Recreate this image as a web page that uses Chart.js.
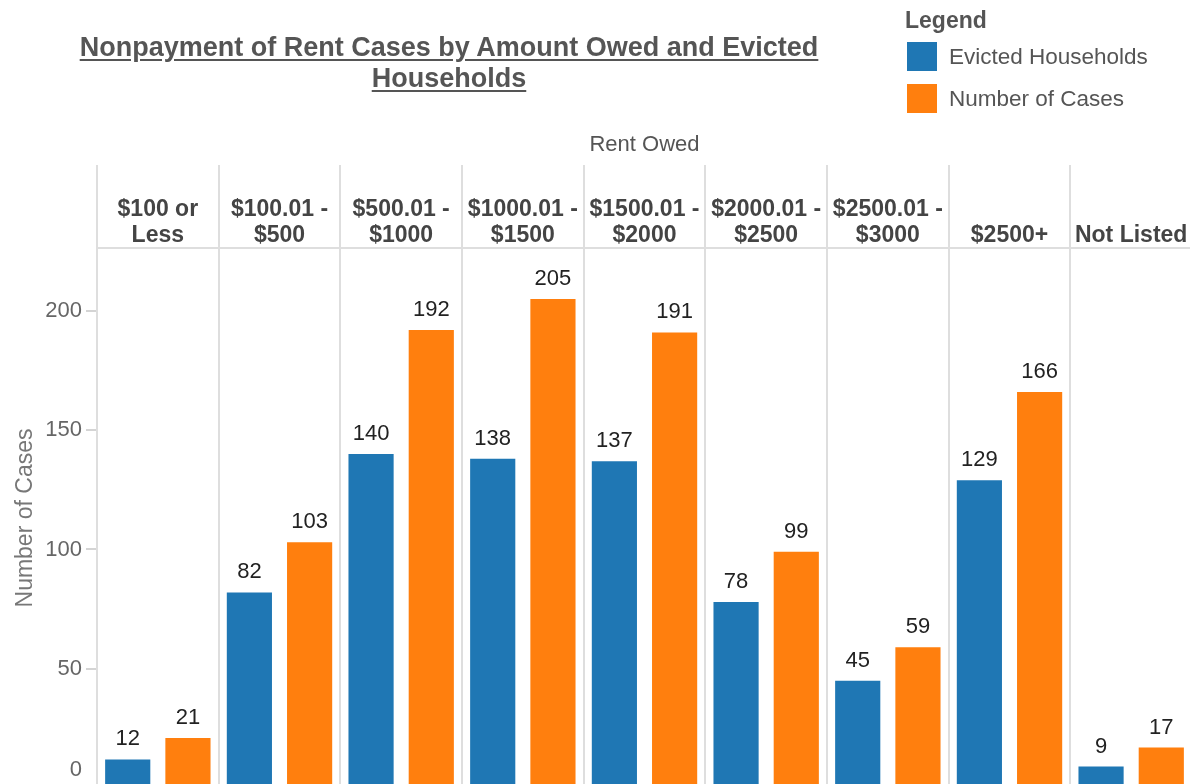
<!DOCTYPE html>
<html>
<head>
<meta charset="utf-8">
<script src="https://cdn.jsdelivr.net/npm/chart.js@4.4.1/dist/chart.umd.min.js"></script>
<style>
  html, body { margin: 0; padding: 0; background: #fff; overflow: hidden; }
  #frame { position: relative; width: 1190px; height: 784px; overflow: hidden;
           font-family: "Liberation Sans", Arial, Helvetica, sans-serif; }
  #wrap { position: absolute; left: 0; top: 0; width: 1192px; height: 800px; }
  #title { position: absolute; left: 0; top: 32px; width: 898px; text-align: center;
           font-weight: bold; font-size: 27px; line-height: 31px; color: #555;
           text-decoration: underline; text-underline-offset: 3px; z-index: 2; }
  #legend { position: absolute; left: 905px; top: 4px; color: #555; z-index: 2; }
  #legend .head { font-weight: bold; font-size: 23px; line-height: 32px; margin-bottom: 6px; }
  #legend .item { display: flex; align-items: center; height: 29px; margin-bottom: 13px; }
  #legend .sw { width: 30px; height: 29px; margin-left: 2px; margin-right: 12px; }
  #legend .lbl { font-size: 22.5px; }
</style>
</head>
<body>
<div id="frame">
  <div id="title">Nonpayment of Rent Cases by Amount Owed and Evicted<br>Households</div>
  <div id="legend"><div class="head">Legend</div></div>
  <div id="wrap"><canvas id="c"></canvas></div>
</div>
<script>
// ---- data ----
const categories = [
  ['$100 or', 'Less'],
  ['$100.01 -', '$500'],
  ['$500.01 -', '$1000'],
  ['$1000.01 -', '$1500'],
  ['$1500.01 -', '$2000'],
  ['$2000.01 -', '$2500'],
  ['$2500.01 -', '$3000'],
  '$2500+',
  'Not Listed'
];
const evictedHouseholds = [12, 82, 140, 138, 137, 78, 45, 129, 9];
const numberOfCases = [21, 103, 192, 205, 191, 99, 59, 166, 17];
const yTickValues = [0, 50, 100, 150, 200];
const seriesNames = ['Evicted Households', 'Number of Cases'];
const seriesColors = ['#1f77b4', '#ff7f0e'];
const xAxisTitle = 'Rent Owed';
const yAxisTitle = 'Number of Cases';

const FONT = '"Liberation Sans", Arial, Helvetica, sans-serif';

const valueLabels = {
  id: 'valueLabels',
  afterDatasetsDraw(chart) {
    const ctx = chart.ctx;
    ctx.save();
    ctx.font = '22px ' + FONT;
    ctx.fillStyle = '#222';
    ctx.textAlign = 'center';
    ctx.textBaseline = 'middle';
    chart.data.datasets.forEach((ds, i) => {
      chart.getDatasetMeta(i).data.forEach((bar, j) => {
        ctx.fillText(String(ds.data[j]), bar.x, bar.y - 20);
      });
    });
    ctx.restore();
  }
};

const chart = new Chart(document.getElementById('c'), {
  type: 'bar',
  data: {
    labels: categories,
    datasets: [
      { label: seriesNames[0], data: evictedHouseholds, backgroundColor: seriesColors[0],
        categoryPercentage: 0.99, barPercentage: 0.75, borderWidth: 0 },
      { label: seriesNames[1], data: numberOfCases, backgroundColor: seriesColors[1],
        categoryPercentage: 0.99, barPercentage: 0.75, borderWidth: 0 }
    ]
  },
  options: {
    responsive: true,
    maintainAspectRatio: false,
    animation: false,
    devicePixelRatio: 1,
    layout: { padding: { left: 0, top: 0, right: 0, bottom: 12 } },
    plugins: { legend: { display: false }, tooltip: { enabled: false }, title: { display: false } },
    scales: {
      x: {
        position: 'top',
        offset: true,
        grid: { color: '#dedede', lineWidth: 2, tickLength: 83, offset: true, drawOnChartArea: true },
        border: { display: true, color: '#dedede', width: 2 },
        ticks: { font: { family: FONT, size: 23, weight: 'bold', lineHeight: 1.13 }, color: '#444',
                 padding: -84, maxRotation: 0, minRotation: 0, autoSkip: false },
        title: { display: true, text: xAxisTitle, color: '#555',
                 font: { family: FONT, size: 22, lineHeight: 1.2 }, padding: { top: 132, bottom: 0 } },
        afterFit(scale) { scale.height = 248; scale.paddingLeft = 0; scale.paddingRight = 0; }
      },
      y: {
        min: 0,
        max: 226.4,
        afterBuildTicks(axis) { axis.ticks = yTickValues.map(v => ({ value: v })); },
        ticks: {
          callback: v => (v === 0 ? ['0', ''] : String(v)),
          font: { family: FONT, size: 22, lineHeight: 1.6 }, color: '#666', padding: 4
        },
        grid: { drawOnChartArea: false, tickLength: 11, color: '#d4d4d4', lineWidth: 2 },
        border: { display: true, color: '#dedede', width: 2 },
        title: { display: true, text: yAxisTitle, color: '#777',
                 font: { family: FONT, size: 23, lineHeight: 1.2 }, padding: { top: 12, bottom: 0 } },
        afterFit(scale) { scale.width = 97; scale.paddingTop = 0; scale.paddingBottom = 0; }
      }
    }
  },
  plugins: [valueLabels]
});

// HTML legend built from the chart's datasets
const legendEl = document.getElementById('legend');
chart.data.datasets.forEach(ds => {
  const item = document.createElement('div');
  item.className = 'item';
  const sw = document.createElement('div');
  sw.className = 'sw';
  sw.style.background = ds.backgroundColor;
  const lbl = document.createElement('span');
  lbl.className = 'lbl';
  lbl.textContent = ds.label;
  item.appendChild(sw);
  item.appendChild(lbl);
  legendEl.appendChild(item);
});
</script>
</body>
</html>
